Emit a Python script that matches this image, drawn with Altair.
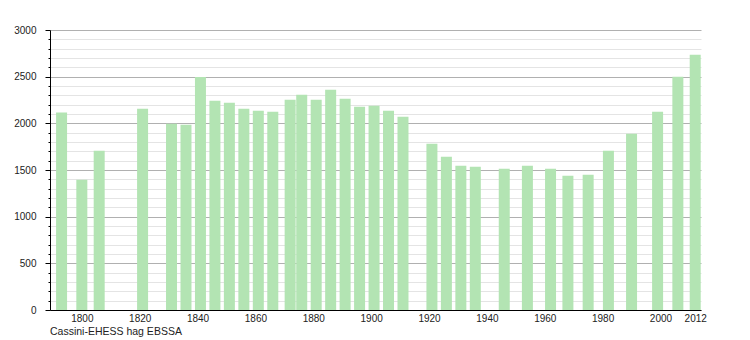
import altair as alt
import pandas as pd

years = [1793, 1800, 1806, 1821, 1831, 1836, 1841, 1846, 1851, 1856, 1861, 1866,
         1872, 1876, 1881, 1886, 1891, 1896, 1901, 1906, 1911, 1921, 1926, 1931,
         1936, 1946, 1954, 1962, 1968, 1975, 1982, 1990, 1999, 2006, 2012]
population = [2115, 1396, 1707, 2157, 1996, 1985, 2497, 2243, 2221, 2157, 2135, 2125,
              2253, 2307, 2253, 2360, 2264, 2178, 2189, 2135, 2071, 1782, 1643, 1546,
              1535, 1514, 1546, 1514, 1439, 1450, 1707, 1889, 2125, 2500, 2735]
x_ticks = [1800, 1820, 1840, 1860, 1880, 1900, 1920, 1940, 1960, 1980, 2000, 2012]
y_ticks = list(range(0, 3001, 100))
source = "Cassini-EHESS hag EBSSA"

df = pd.DataFrame({"year": years, "pop": population})

chart = alt.Chart(df).mark_bar(size=11, color="#b3e4b3").encode(
    x=alt.X("year:Q",
            scale=alt.Scale(domain=[1789, 2014], nice=False, zero=False, padding=0),
            axis=alt.Axis(values=x_ticks, title=None, grid=False, ticks=False,
                          labelPadding=3, format="d", domainColor="black",
                          labelFontSize=10, labelFont="Liberation Sans",
                          labelColor="#222222", labelOverlap=False)),
    y=alt.Y("pop:Q",
            scale=alt.Scale(domain=[0, 3000], nice=False, padding=0),
            axis=alt.Axis(values=y_ticks, title=None, format="d",
                          labelExpr="datum.value % 500 === 0 ? datum.label : ''",
                          gridColor={"condition": {"test": "datum.value % 500 === 0", "value": "#b0b0b0"}, "value": "#e4e4e4"},
                          tickSize={"condition": {"test": "datum.value % 500 === 0", "value": 5}, "value": 2},
                          tickColor="black", domainColor="black",
                          labelPadding=9, labelFontSize=10, labelFont="Liberation Sans",
                          labelColor="#222222", labelOverlap=False)),
).properties(
    width=651, height=280,
    autosize=alt.AutoSizeParams(type="none"),
    padding={"left": 50, "top": 30, "right": 49, "bottom": 30},
    title=alt.TitleParams(source, orient="bottom", anchor="start", fontSize=10.5,
                          fontWeight="normal", font="Liberation Sans", frame="group",
                          color="#222222", offset=4),
).configure_view(stroke=None)

chart.save("out.html", embed_options={"renderer": "svg", "actions": False})
